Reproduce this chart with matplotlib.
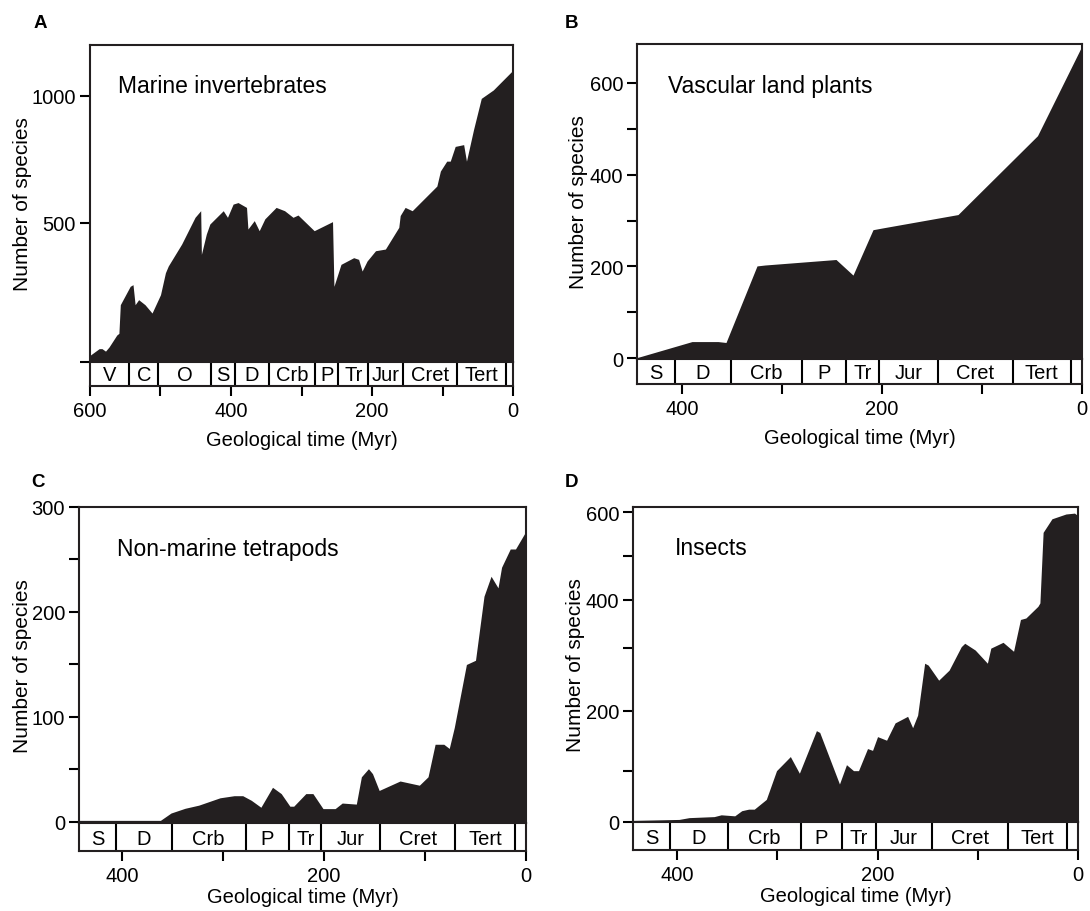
import numpy as np
import matplotlib
matplotlib.use('Agg')
import matplotlib.pyplot as plt

plt.rcParams['font.family'] = ['Liberation Sans', 'DejaVu Sans']

FILL = '#231f20'
W, H = 1090, 912

# values: time in Myr before present, number of species
marine_t = [600, 587, 583, 578, 573, 562, 559, 557, 543, 539, 536, 531, 522, 512, 500,
            493, 489, 470, 451, 443, 442, 435, 430, 411, 405, 397, 390, 378, 376, 367,
            360, 352, 336, 324, 312, 305, 282, 256, 254, 244, 226, 219, 214, 207, 195,
            181, 162, 160, 153, 143, 108, 103, 94, 89, 82, 70, 66, 56, 45, 28, 0]
marine_n = [24, 48, 48, 39, 54, 97, 103, 206, 272, 278, 206, 224, 206, 176, 242,
            321, 345, 424, 522, 548, 387, 460, 496, 548, 522, 574, 580, 561, 478, 509,
            472, 516, 561, 548, 522, 531, 472, 505, 272, 351, 375, 369, 327, 363, 400,
            406, 484, 529, 561, 548, 645, 704, 743, 743, 801, 808, 743, 867, 990, 1023, 1101]

plants_t = [445, 390, 364, 356, 325, 317, 246, 229, 209, 199, 124, 100, 44.5, 0]
plants_n = [1, 36, 36, 34, 201, 203, 215, 181, 280, 284, 313, 365, 485, 681]

tetra_t = [442.6, 362, 351.5, 337.6, 324, 303, 289, 280.5, 272, 262.5, 251, 242.4, 233.8,
           230, 218, 211, 201, 189, 182, 168, 163, 156, 152, 145.4, 124.7, 105.6, 97, 90,
           81.4, 76, 71, 59, 50, 41.6, 34.6, 27.7, 24.2, 15.6, 10.4, 0]
tetra_n = [1.5, 1.5, 8.5, 13, 16, 23, 25, 25, 20.6, 14, 33, 27, 15, 15, 27, 27, 12.7,
           12.7, 18, 17, 43, 50.7, 46, 30, 39, 35, 43, 74, 74, 70, 90, 150, 154, 215, 234,
           223, 242.6, 260, 260, 277]

insect_t = [444, 398, 388, 363, 356, 342.5, 335.5, 328.6, 323, 311, 300.8, 287, 278, 261,
            257.7, 238, 231, 224, 219, 215.6, 210, 205, 200, 191, 182.5, 170, 165, 160, 153,
            149.5, 139, 128.6, 116.5, 113, 102.6, 90.4, 87, 74.8, 64.3, 57.4, 52, 40, 38,
            34.8, 26, 12, 3.5, 0]
insect_n = [3, 5, 8.5, 10.5, 14, 12, 22, 25, 25, 44, 100, 123.6, 95, 167, 164, 74, 110,
            100, 100, 114, 137, 134, 157, 151, 180, 191, 172, 193, 276, 273, 249, 265, 303,
            310, 297, 276, 300, 312, 295, 359, 362, 386, 393, 554, 585, 596, 598, 592]

# period boxes under each panel (boundaries as drawn, Myr)
marine_bounds = [600, 544, 503, 428.5, 394.7, 346.3, 280.5, 248, 205.3, 156.5, 80, 10.4, 0]
marine_names = ['V', 'C', 'O', 'S', 'D', 'Crb', 'P', 'Tr', 'Jur', 'Cret', 'Tert', '']
plants_bounds = [445, 406.8, 351.5, 280, 235.7, 202.7, 144.3, 69.5, 10.8, 0]
tetra_bounds = [442.6, 405.9, 350.8, 277.7, 234.4, 202.6, 144.4, 70.3, 10.4, 0]
insect_bounds = [444, 406.8, 349.4, 276.4, 235.4, 201.7, 146, 70.2, 11.1, 0]
land_names = ['S', 'D', 'Crb', 'P', 'Tr', 'Jur', 'Cret', 'Tert', '']

marine_xticks = [600, 500, 400, 300, 200, 100, 0]
marine_xlabels = ['600', '', '400', '', '200', '', '0']
land_xticks = [400, 300, 200, 100, 0]
land_xlabels = ['400', '', '200', '', '0']


def box(left, top, right, bottom):
    return [left / W, 1 - bottom / H, (right - left) / W, (bottom - top) / H]


def bent_axis(ax, vals, pos):
    # the printed y axes of A and D are not evenly spaced
    vals = np.asarray(vals, float)
    pos = np.asarray(pos, float)
    s0 = (pos[1] - pos[0]) / (vals[1] - vals[0])
    s1 = (pos[-1] - pos[-2]) / (vals[-1] - vals[-2])
    v = np.r_[vals[0] - 1e4, vals, vals[-1] + 1e4]
    p = np.r_[pos[0] - 1e4 * s0, pos, pos[-1] + 1e4 * s1]
    ax.set_yscale('function', functions=(lambda x: np.interp(x, v, p),
                                         lambda y: np.interp(y, p, v)))


def panel(fig, frame, bar_bottom, t, n, bounds, names, xticks, xlabels,
          ylim, yticks, ylabels, title, title_xy, letter, letter_xy, ylab_x,
          bend=None, xpad=6):
    left, top, right, bottom = frame
    ax = fig.add_axes(box(left, top, right, bottom))
    bar = fig.add_axes(box(left, bottom, right, bar_bottom), sharex=ax)

    if bend is not None:
        bent_axis(ax, *bend)
    ax.fill_between(t, n, ylim[0], color=FILL, lw=0)
    ax.set_xlim(bounds[0], 0)
    ax.set_ylim(*ylim)
    ax.set_yticks(yticks, ylabels)
    ax.tick_params(axis='y', direction='out', length=7, width=1.5, pad=3, labelsize=14.5)
    ax.tick_params(axis='x', bottom=False, labelbottom=False)
    ax.set_ylabel('Number of species', fontsize=15)
    ax.yaxis.set_label_coords(ylab_x, 0.5)
    ax.text(title_xy[0], title_xy[1], title, transform=ax.transAxes,
            fontsize=16.5, va='baseline', ha='left')

    for b in bounds[1:-1]:
        bar.axvline(b, color='k', lw=1.5)
    for a, b, s in zip(bounds[:-1], bounds[1:], names):
        bar.text((a + b) / 2, 0.46, s, ha='center', va='center', fontsize=14.5)
    bar.set_ylim(0, 1)
    bar.set_yticks([])
    bar.set_xticks(xticks, xlabels)
    bar.tick_params(axis='x', direction='out', length=7, width=1.5, pad=4, labelsize=14.5)
    bar.set_xlabel('Geological time (Myr)', fontsize=14.5, labelpad=xpad)

    for a in (ax, bar):
        for sp in a.spines.values():
            sp.set_linewidth(1.5)
            sp.set_color('#231f20')

    fig.text(letter_xy[0] / W, 1 - letter_xy[1] / H, letter, fontsize=13.5,
             fontweight='bold', ha='center', va='center')
    return ax


fig = plt.figure(figsize=(10.9, 9.12), dpi=100)

panel(fig, (90, 46, 513, 363), 387, marine_t, marine_n, marine_bounds, marine_names,
      marine_xticks, marine_xlabels, (0, 1200), [0, 500, 1000], ['', '500', '1000'],
      'Marine invertebrates', (0.066, 0.851), 'A', (40, 24), -0.137,
      bend=([0, 500, 1000], [0, 139, 266]), xpad=7)

panel(fig, (637, 45, 1082, 360), 385, plants_t, plants_n, plants_bounds, land_names,
      land_xticks, land_xlabels, (-2, 685), [0, 100, 200, 300, 400, 500, 600],
      ['0', '', '200', '', '400', '', '600'],
      'Vascular land plants', (0.07, 0.847), 'B', (572, 24), -0.110, xpad=7)

panel(fig, (79, 508, 526, 824), 852, tetra_t, tetra_n, tetra_bounds, land_names,
      land_xticks, land_xlabels, (-1, 300), [0, 50, 100, 150, 200, 250, 300],
      ['0', '', '100', '', '200', '', '300'],
      'Non-marine tetrapods', (0.085, 0.847), 'C', (38, 483), -0.105, xpad=1)

panel(fig, (633, 508, 1078, 823), 851, insect_t, insect_n, insect_bounds, land_names,
      land_xticks, land_xlabels, (0, 612), [0, 100, 200, 300, 400, 500, 600],
      ['0', '', '200', '', '400', '', '600'],
      'Insects', (0.093, 0.851), 'D', (572, 483), -0.108,
      bend=([0, 100, 200, 300, 400, 500, 600], [0, 51, 110.3, 172.7, 221, 264.3, 307.7]),
      xpad=1)

fig.savefig('out.png', dpi=100)
